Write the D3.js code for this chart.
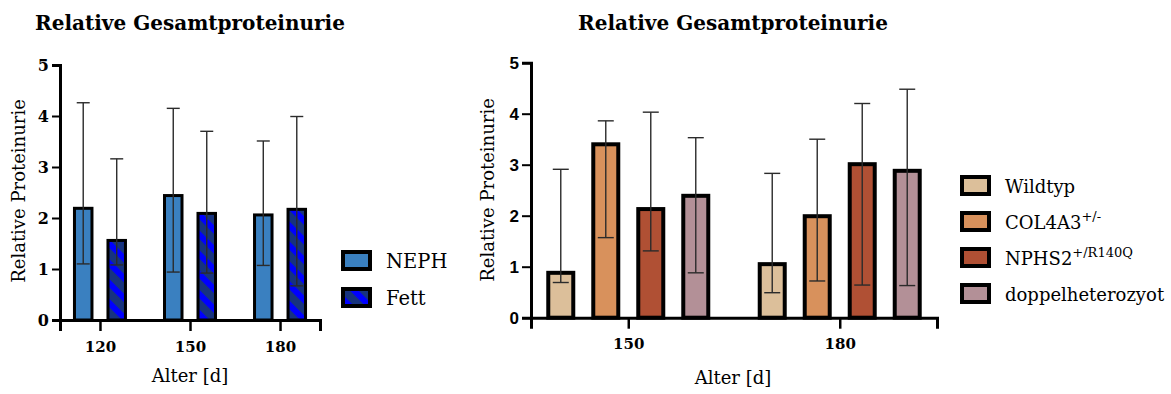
<!DOCTYPE html>
<html>
<head>
<meta charset="utf-8">
<script src="https://cdn.jsdelivr.net/npm/d3@7"></script>
<style>
  html, body { margin: 0; padding: 0; background: #fff; }
  svg { display: block; }
  .serif { font-family: "DejaVu Serif", serif; }
</style>
</head>
<body>
<svg id="chart" width="1171" height="394"></svg>
<script>
// ---------- Data ----------
const titleText = "Relative Gesamtproteinurie";
const yLabel = "Relative Proteinurie";
const xLabel = "Alter [d]";
const yTicks = [0, 1, 2, 3, 4, 5];

// Left chart
const leftCategories = ["120", "150", "180"];
const leftSeries = ["NEPH", "Fett"];
const nephMean = [2.19, 2.44, 2.06];
const nephLow  = [1.10, 0.94, 1.07];
const nephHigh = [4.26, 4.15, 3.51];
const fettMean = [1.56, 2.09, 2.17];
const fettLow  = [1.08, 0.92, 0.67];
const fettHigh = [3.16, 3.70, 3.99];

// Right chart
const rightCategories = ["150", "180"];
const rightSeries = ["Wildtyp", "COL4A3", "NPHS2", "doppelheterozyot"];
const rightSeriesSup = ["", "+/-", "+/R140Q", ""];
const wildMean = [0.88, 1.05];
const wildLow  = [0.69, 0.49];
const wildHigh = [2.91, 2.83];
const colMean  = [3.40, 1.99];
const colLow   = [1.57, 0.72];
const colHigh  = [3.86, 3.50];
const nphsMean = [2.13, 3.01];
const nphsLow  = [1.31, 0.64];
const nphsHigh = [4.03, 4.20];
const doppMean = [2.39, 2.88];
const doppLow  = [0.88, 0.63];
const doppHigh = [3.53, 4.48];

// ---------- Styles ----------
const leftColors = ["#3a80c0", "url(#stripes)"];
const rightColors = ["#dcbf9a", "#d8915c", "#b05034", "#b39097"];

const svg = d3.select("#chart");

// stripe pattern for "Fett"
const defs = svg.append("defs");
const pat = defs.append("pattern")
  .attr("id", "stripes")
  .attr("patternUnits", "userSpaceOnUse")
  .attr("width", 14).attr("height", 14)
  .attr("patternTransform", "rotate(-45)");
pat.append("rect").attr("width", 14).attr("height", 14).attr("fill", "#17337e");
pat.append("rect").attr("x", 0).attr("width", 6).attr("height", 14).attr("fill", "#0000ff");

function buildTable(cats, series, means, lows, highs) {
  const rows = [];
  cats.forEach((c, i) => {
    series.forEach((s, j) => {
      rows.push({cat: c, series: s, si: j, mean: means[j][i], low: lows[j][i], high: highs[j][i]});
    });
  });
  return rows;
}

function drawChart(opt) {
  const g = svg.append("g");
  const y = d3.scaleLinear().domain([0, 5]).range([opt.y0, opt.y5]);
  const x0 = d3.scalePoint().domain(opt.cats).range([opt.xl, opt.xr]).padding(opt.pad);
  const x1 = d3.scaleBand().domain(opt.series)
    .range([-(opt.off + opt.bw / 2), opt.off + opt.bw / 2])
    .paddingInner(opt.pi).paddingOuter(0);

  const rows = buildTable(opt.cats, opt.series, opt.means, opt.lows, opt.highs);

  // bars
  g.selectAll("rect.bar").data(rows).join("rect")
    .attr("class", "bar")
    .attr("x", d => x0(d.cat) + x1(d.series))
    .attr("width", x1.bandwidth())
    .attr("y", d => y(d.mean))
    .attr("height", d => y(0) - y(d.mean))
    .attr("fill", d => opt.colors[d.si])
    .attr("stroke", "#000")
    .attr("stroke-width", opt.sw);

  // error bars
  const eb = g.selectAll("g.err").data(rows).join("g").attr("class", "err")
    .attr("stroke", "#2b2b2b").attr("stroke-width", 1.4);
  eb.append("line")
    .attr("x1", d => x0(d.cat) + x1(d.series) + x1.bandwidth() / 2)
    .attr("x2", d => x0(d.cat) + x1(d.series) + x1.bandwidth() / 2)
    .attr("y1", d => y(d.low)).attr("y2", d => y(d.high));
  [ "low", "high" ].forEach(k => {
    eb.append("line")
      .attr("x1", d => x0(d.cat) + x1(d.series) + x1.bandwidth() / 2 - opt.cap / 2)
      .attr("x2", d => x0(d.cat) + x1(d.series) + x1.bandwidth() / 2 + opt.cap / 2)
      .attr("y1", d => y(d[k])).attr("y2", d => y(d[k]));
  });

  // y axis
  const ya = g.append("g").attr("transform", `translate(${opt.xl},0)`)
    .call(d3.axisLeft(y).tickValues(yTicks).tickSizeOuter(0).tickSize(opt.ytick).tickPadding(opt.ypad).tickFormat(d3.format("d")));
  ya.select(".domain").attr("stroke", "#000").attr("stroke-width", 3);
  ya.selectAll(".tick line").attr("stroke", "#000").attr("stroke-width", 2);
  ya.selectAll(".tick text")
    .attr("fill", "#000")
    .style("font-family", opt.yFont)
    .style("font-weight", "bold")
    .style("font-size", opt.yFontSize + "px");

  // x axis
  const xa = g.append("g").attr("transform", `translate(0,${opt.y0})`)
    .call(d3.axisBottom(x0).tickSizeOuter(0).tickSize(11).tickPadding(10));
  xa.select(".domain").attr("stroke", "#000").attr("stroke-width", 3);
  xa.selectAll(".tick line").attr("stroke", "#000").attr("stroke-width", 2.5);
  xa.selectAll(".tick text")
    .attr("fill", "#000")
    .style("font-family", "DejaVu Serif, serif")
    .style("font-weight", "bold")
    .style("font-size", "15px");

  // titles
  g.append("text").attr("class", "serif")
    .attr("x", opt.titleX).attr("y", 30)
    .attr("text-anchor", "middle")
    .style("font-weight", "bold").style("font-size", "20px")
    .text(titleText);
  g.append("text").attr("class", "serif")
    .attr("x", opt.titleX).attr("y", opt.xLabelY)
    .attr("text-anchor", "middle")
    .style("font-size", "18px")
    .text(xLabel);
  g.append("text").attr("class", "serif")
    .attr("transform", `translate(${opt.yLabelX},${opt.yLabelY}) rotate(-90)`)
    .attr("text-anchor", "middle")
    .style("font-size", "18px")
    .text(yLabel);

  // legend
  const lg = g.append("g");
  opt.series.forEach((s, i) => {
    const yy = opt.legY + i * opt.legStep;
    lg.append("rect")
      .attr("x", opt.legX + 2).attr("y", yy + 2)
      .attr("width", 27).attr("height", 17)
      .attr("fill", opt.colors[i])
      .attr("stroke", "#000").attr("stroke-width", 4);
    const t = lg.append("text").attr("class", "serif")
      .attr("x", opt.legX + opt.legTextDx).attr("y", yy + 18)
      .style("font-size", opt.legFont + "px")
      .text(s);
    if (opt.sups && opt.sups[i]) {
      t.append("tspan").attr("dy", -8).style("font-size", "13px").text(opt.sups[i]);
    }
  });
}

drawChart({
  cats: leftCategories, series: leftSeries,
  means: [nephMean, fettMean], lows: [nephLow, fettLow], highs: [nephHigh, fettHigh],
  colors: leftColors,
  y0: 320, y5: 65, xl: 60, xr: 320, pad: 0.444,
  off: 16.75, bw: 17.5, pi: 1 - 17.5 / 33.5, sw: 3, cap: 13,
  ytick: 8, ypad: 3, yFont: "DejaVu Serif, serif", yFontSize: 16,
  titleX: 190, xLabelY: 382, yLabelX: 25, yLabelY: 191,
  legX: 341, legY: 250, legStep: 37, legFont: 19.5, legTextDx: 45, sups: null
});

drawChart({
  cats: rightCategories, series: rightSeries,
  means: [wildMean, colMean, nphsMean, doppMean],
  lows: [wildLow, colLow, nphsLow, doppLow],
  highs: [wildHigh, colHigh, nphsHigh, doppHigh],
  colors: rightColors,
  y0: 317.7, y5: 62.7, xl: 531, xr: 937, pad: 0.46,
  off: 67.5, bw: 25, pi: 1 - 25 / 45, sw: 4, cap: 16,
  ytick: 9, ypad: 3, yFont: "Liberation Sans, Arial, sans-serif", yFontSize: 17,
  titleX: 733, xLabelY: 384, yLabelX: 494, yLabelY: 190,
  legX: 960, legY: 175, legStep: 36, legFont: 18, legTextDx: 45, sups: rightSeriesSup
});
</script>
</body>
</html>
